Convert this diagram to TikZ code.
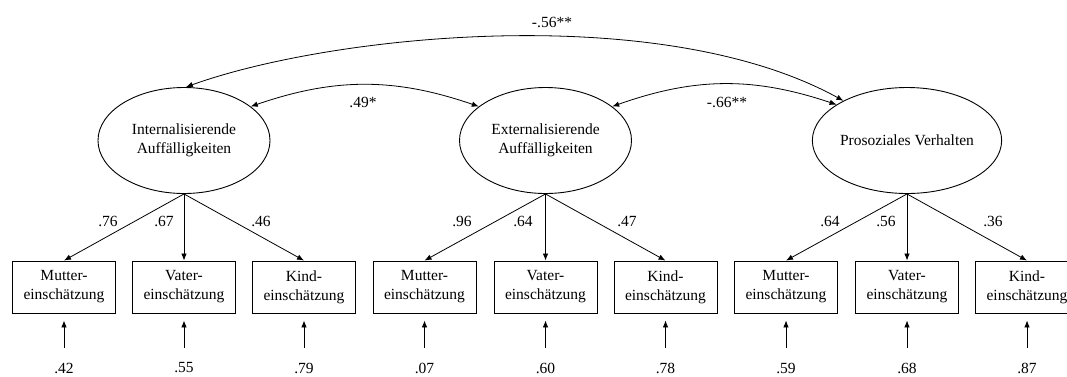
\documentclass[tikz,border=0pt]{standalone}
\usepackage{fontspec}
\setmainfont{Liberation Serif}
\usetikzlibrary{arrows.meta,shapes.geometric}
\begin{document}
\begin{tikzpicture}[x=1pt,y=-1pt,
  every node/.style={font=\fontsize{15.5}{19}\selectfont},
  latent/.style={draw,ellipse,line width=0.9pt,minimum width=172pt,minimum height=106pt,inner sep=0pt,align=center},
  obs/.style={draw,rectangle,line width=0.9pt,minimum width=103pt,minimum height=52pt,inner sep=0pt,align=center},
  lbl/.style={inner sep=0pt},
  arr/.style={line width=0.8pt,-{Latex[length=7pt,width=5.5pt]}},
  darr/.style={line width=0.8pt,{Latex[length=7pt,width=5.5pt]}-{Latex[length=7pt,width=5.5pt]}}]
\useasboundingbox (0,0) rectangle (1067,376);

% latent variables
\node[latent] (E1) at (184,140.5) {Internalisierende\\Auffälligkeiten};
\node[latent] (E2) at (545.5,140.5) {Externalisierende\\Auffälligkeiten};
\node[latent] (E3) at (907,140.5) {Prosoziales Verhalten};

% observed variables
\node[obs] (b1) at (64,287) {Mutter-\\einschätzung};
\node[obs] (b2) at (184,287) {Vater-\\einschätzung};
\node[obs] (b3) at (304,287) {Kind-\\einschätzung};
\node[obs] (b4) at (424.5,287) {Mutter-\\einschätzung};
\node[obs] (b5) at (545.5,287) {Vater-\\einschätzung};
\node[obs] (b6) at (665.5,287) {Kind-\\einschätzung};
\node[obs] (b7) at (786,287) {Mutter-\\einschätzung};
\node[obs] (b8) at (907,287) {Vater-\\einschätzung};
\node[obs] (b9) at (1027,287) {Kind-\\einschätzung};

% loadings
\foreach \e/\b in {E1/b1,E1/b2,E1/b3,E2/b4,E2/b5,E2/b6,E3/b7,E3/b8,E3/b9}
  \draw[arr] (\e.south) -- (\b.north);

\node[lbl] (l1) at (108,221) {.76};
\node[lbl] (l2) at (164,221) {.67};
\node[lbl] (l3) at (261,221) {.46};
\node[lbl] (l4) at (462,221) {.96};
\node[lbl] (l5) at (523,221) {.64};
\node[lbl] (l6) at (627,221) {.47};
\node[lbl] (l7) at (830,221) {.64};
\node[lbl] (l8) at (886,221) {.56};
\node[lbl] (l9) at (993,221) {.36};

% residuals
\foreach \i/\x/\v in {1/64/.42,2/184/.55,3/304/.79,4/424.5/.07,5/545.5/.60,6/665.5/.78,7/786/.59,8/907/.68,9/1027/.87}{
  \node[lbl] (r\i) at (\x,368) {\v};
  \coordinate (t\i) at (\x,348);
  \draw[arr,shorten >=7pt] (t\i) -- (b\i);
}

% correlations
\draw[darr] (E1.27) to[bend left=19] (E2.153);
\draw[darr] (E2.27) to[bend left=19] (E3.153);
\draw[darr] (E1.88) .. controls (330,35) and (660,0) .. (E3.148);

\node[lbl] (c1) at (363,102) {.49*};
\node[lbl] (c2) at (727,102) {-.66**};
\node[lbl] (c3) at (552,22) {-.56**};
\end{tikzpicture}
\end{document}
